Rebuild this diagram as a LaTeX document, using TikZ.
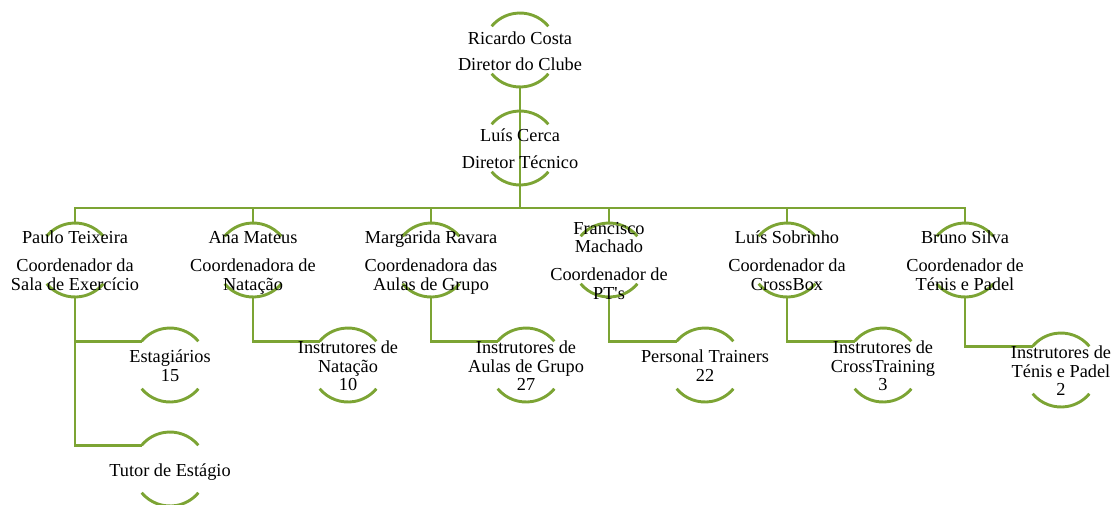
\documentclass[tikz,border=0pt]{standalone}
\usepackage{fontspec}
\setmainfont{Liberation Serif}
\font\apof="Liberation Serif" at 18.3pt
\definecolor{olv}{RGB}{124,164,52}
\tikzset{
  circ/.style={circle, minimum size=74pt, inner sep=0pt, outer sep=0pt},
  arcst/.style={draw=olv, line width=2.9pt},
  ln/.style={draw=olv, line width=2.9pt},
  txt/.style={align=center, inner sep=0pt, text=black, yshift=-3.5pt, font=\fontsize{18.3}{18.5}\selectfont,
    execute at begin node=\strut, execute at end node=\strut}
}
\newcommand\orgcirc[2]{%
  \node[circ] (#1) at (#2) {};
  \draw[arcst] (#1.40) arc (40:140:37pt);
  \draw[arcst] (#1.220) arc (220:320:37pt);
}
\begin{document}
\begin{tikzpicture}[x=1pt,y=1pt]
\useasboundingbox (0,0) rectangle (1113,-504);
% circles
\orgcirc{rc}{520,-50}
\orgcirc{lc}{520,-148}
\orgcirc{pa}{75,-260}
\orgcirc{am}{253,-260}
\orgcirc{mr}{431,-260}
\orgcirc{fm}{609,-260}
\orgcirc{ls}{787,-260}
\orgcirc{bs}{965,-260}
\orgcirc{es}{170,-365}
\orgcirc{tu}{170,-469}
\orgcirc{in}{348,-365}
\orgcirc{ia}{526,-365}
\orgcirc{pt}{705,-365}
\orgcirc{ic}{883,-365}
\orgcirc{it}{1061,-370}
% connectors
\coordinate (bus) at (520,-208);
\draw[ln] (rc.south) -- (bus);
\draw[ln] (pa.north) |- (bus) -| (bs.north);
\draw[ln] (am.north) -- (am.north |- bus);
\draw[ln] (mr.north) -- (mr.north |- bus);
\draw[ln] (fm.north) -- (fm.north |- bus);
\draw[ln] (ls.north) -- (ls.north |- bus);
\draw[ln] (pa.south) |- (es.140);
\draw[ln] (pa.south) |- (tu.140);
\draw[ln] (am.south) |- (in.140);
\draw[ln] (mr.south) |- (ia.140);
\draw[ln] (fm.south) |- (pt.140);
\draw[ln] (ls.south) |- (ic.140);
\draw[ln] (bs.south) |- (it.140);
% texts
\node[txt] (rc-t) at (rc) {Ricardo Costa\\[7.5pt]Diretor do Clube};
\node[txt] (lc-t) at (lc) {Luís Cerca\\[8.5pt]Diretor Técnico};
\node[txt] (pa-t) at (pa) {Paulo Teixeira\\[9.5pt]Coordenador da\\Sala de Exercício};
\node[txt] (am-t) at (am) {Ana Mateus\\[9.5pt]Coordenadora de\\Natação};
\node[txt] (mr-t) at (mr) {Margarida Ravara\\[9.5pt]Coordenadora das\\Aulas de Grupo};
\node[txt] (fm-t) at (fm) {Francisco\\Machado\\[9.5pt]Coordenador de\\PT{\apof'}s};
\node[txt] (ls-t) at (ls) {Luís Sobrinho\\[9.5pt]Coordenador da\\CrossBox};
\node[txt] (bs-t) at (bs) {Bruno Silva\\[9.5pt]Coordenador de\\Ténis e Padel};
\node[txt] (es-t) at (es) {Estagiários\\15};
\node[txt] (tu-t) at (tu) {Tutor de Estágio};
\node[txt] (in-t) at (in) {Instrutores de\\Natação\\10};
\node[txt] (ia-t) at (ia) {Instrutores de\\Aulas de Grupo\\27};
\node[txt] (pt-t) at (pt) {Personal Trainers\\22};
\node[txt] (ic-t) at (ic) {Instrutores de\\CrossTraining\\3};
\node[txt] (it-t) at (it) {Instrutores de\\Ténis e Padel\\2};
\end{tikzpicture}
\end{document}
